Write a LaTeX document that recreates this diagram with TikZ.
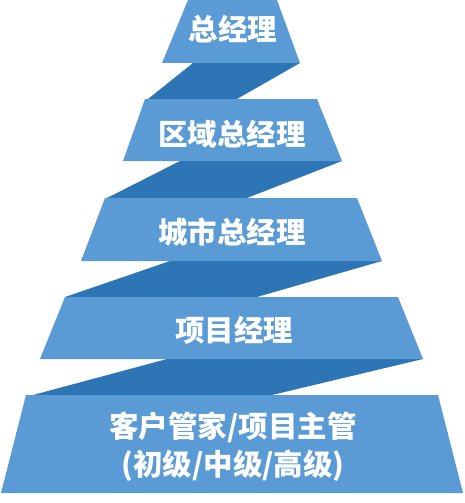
\documentclass[tikz,border=0pt]{standalone}
\usepackage{fontspec}
\newfontfamily\cjk{Noto Sans CJK SC}
\definecolor{tierblue}{HTML}{5B9BD5}
\definecolor{bandblue}{HTML}{2E75B6}
\tikzset{
  tier/.style={fill=tierblue},
  band/.style={fill=bandblue},
  lvl/.style={text=white, font=\cjk\bfseries\fontsize{29.5}{38}\selectfont, align=center, inner sep=0pt}
}
\begin{document}
\begin{tikzpicture}[x=1pt, y=-1pt]
    \useasboundingbox (0,0) rectangle (464,503);
    % folds behind the levels
    \fill[band] (193,63) -- (300,63) -- (237,99) -- (148,99) -- cycle;
    \fill[band] (180,161) -- (342,161) -- (247,198) -- (107,198) -- cycle;
    \fill[band] (170,261) -- (382,261) -- (257,297) -- (65,297) -- cycle;
    \fill[band] (167,359) -- (423,359) -- (272,395) -- (33,395) -- cycle;
    % levels
    \fill[tier] (188,0) -- (277,0) -- (300,63) -- (162,63) -- cycle;
    \fill[tier] (145,99) -- (317,99) -- (342,161) -- (123,161) -- cycle;
    \fill[tier] (105,198) -- (357,198) -- (382,261) -- (81,261) -- cycle;
    \fill[tier] (65,297) -- (398,297) -- (423,359) -- (40,359) -- cycle;
    \fill[tier] (26,395) -- (438,395) -- (463,493) -- (1,493) -- cycle;
    \node[lvl] (gm) at (233,29) {总经理};
    \node[lvl] (rgm) at (232,134) {区域总经理};
    \node[lvl] (cgm) at (232,232) {城市总经理};
    \node[lvl] (pm) at (234,330) {项目经理};
    \node[lvl] (hk) at (233,447) {客户管家/项目主管\\(初级/中级/高级)};
\end{tikzpicture}
\end{document}
